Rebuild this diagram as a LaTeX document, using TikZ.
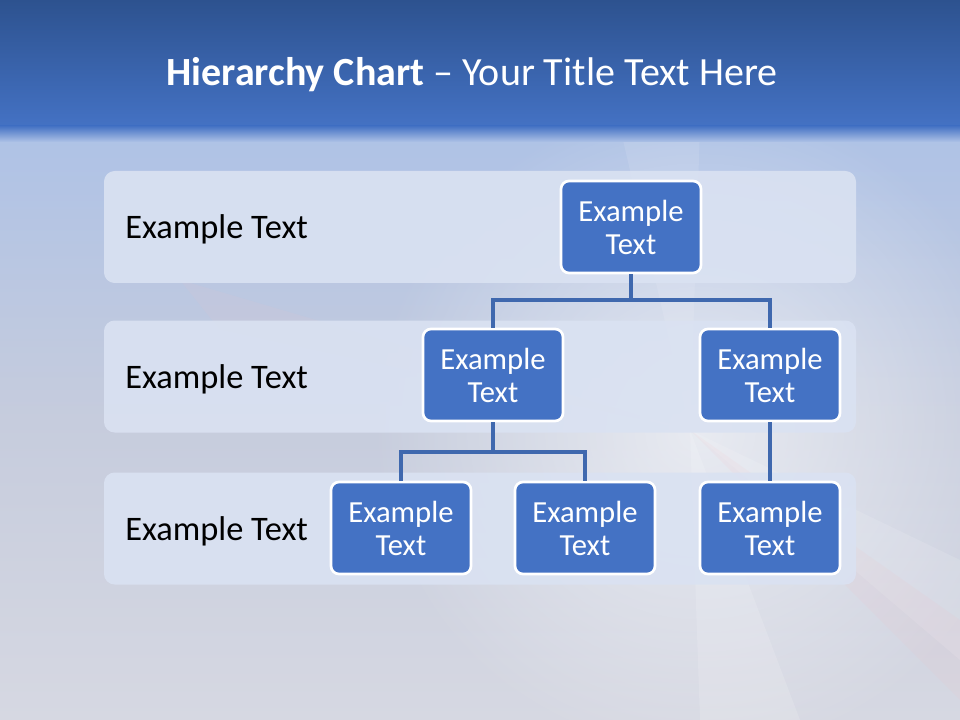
\documentclass[tikz,border=0pt]{standalone}
\usepackage{fontspec}
\setmainfont{Carlito}
\usepackage{xcolor}
\usetikzlibrary{positioning,calc,fadings}

\definecolor{titletop}{HTML}{2D528F}
\definecolor{titlebot}{HTML}{4472C4}
\definecolor{bgtop}{HTML}{AEC2E6}
\definecolor{bgmid}{HTML}{C6CCDD}
\definecolor{bgbot}{HTML}{D6D8E2}
\definecolor{boxblue}{HTML}{4472C4}
\definecolor{linkblue}{HTML}{3F68AE}
\definecolor{rowfill}{HTML}{DAE2F2}

\tikzfading[name=glowfade, inner color=transparent!0, outer color=transparent!100]

\begin{document}
\begin{tikzpicture}[x=0.75pt, y=-0.75pt,
    rowband/.style={rectangle, fill=rowfill, fill opacity=0.9, rounded corners=8pt, minimum width=564pt, minimum height=84pt},
    rowlabel/.style={font=\fontsize{25.8}{30}\selectfont, text=black, inner sep=0pt, yshift=-2pt},
    box/.style={rectangle, draw=white, line width=2pt, fill=boxblue, rounded corners=6pt, minimum width=105pt, minimum height=69pt, text=white, font=\fontsize{23}{24.75}\selectfont, align=center, inner sep=0pt},
    link/.style={draw=linkblue, line width=2.6pt}
]
    % background
    \useasboundingbox (0,0) rectangle (960,720);
    \shade[top color=bgtop, bottom color=bgmid] (0,127) rectangle (960,420);
    \shade[top color=bgmid, bottom color=bgbot] (0,420) rectangle (960,720);
    \fill[white, path fading=glowfade, opacity=0.6] (700,430) circle (330);
    \fill[white, opacity=0.12] (690,430) -- (960,560) -- (960,660) -- cycle;
    \fill[white, opacity=0.14] (690,430) -- (800,720) -- (700,720) -- cycle;
    \fill[white, opacity=0.1] (690,430) -- (620,127) -- (700,127) -- cycle;
    \fill[red!30, opacity=0.08] (690,430) -- (960,620) -- (960,700) -- cycle;
    \fill[red!25, opacity=0.08] (690,430) -- (180,280) -- (220,330) -- cycle;
    \shade[top color=titletop, bottom color=titlebot] (0,0) rectangle (960,127);
    \shade[top color=titlebot, bottom color=bgtop] (0,126) rectangle (960,142);

    \node (title) at (472,75) [text=white, font=\fontsize{30}{36}\selectfont]
        {\textbf{Hierarchy Chart} – Your Title Text Here};

    % levels
    \node (row1) [rowband] at (480,227) {};
    \node (row2) [rowband] at (480,376.5) {};
    \node (row3) [rowband] at (480,528.5) {};
    \node (lab1) [rowlabel, right=16pt of row1.west] {Example Text};
    \node (lab2) [rowlabel, right=16pt of row2.west] {Example Text};
    \node (lab3) [rowlabel, right=16pt of row3.west] {Example Text};

    % boxes
    \node (top) [box] at (631,227) {Example\\Text};
    \node (ml) [box] at (493,375) {Example\\Text};
    \node (mr) [box] at (770,375) {Example\\Text};
    \node (b1) [box] at (401,528) {Example\\Text};
    \node (b2) [box] at (585,528) {Example\\Text};
    \node (b3) [box] at (770,528) {Example\\Text};

    \coordinate (j1) at (631,300);
    \coordinate (j2) at (493,452);
    \draw [link] (top.south) -- (j1);
    \draw [link] (ml.north) |- (j1) -| (mr.north);
    \draw [link] (ml.south) -- (j2);
    \draw [link] (b1.north) |- (j2) -| (b2.north);
    \draw [link] (mr.south) -- (b3.north);
\end{tikzpicture}
\end{document}
